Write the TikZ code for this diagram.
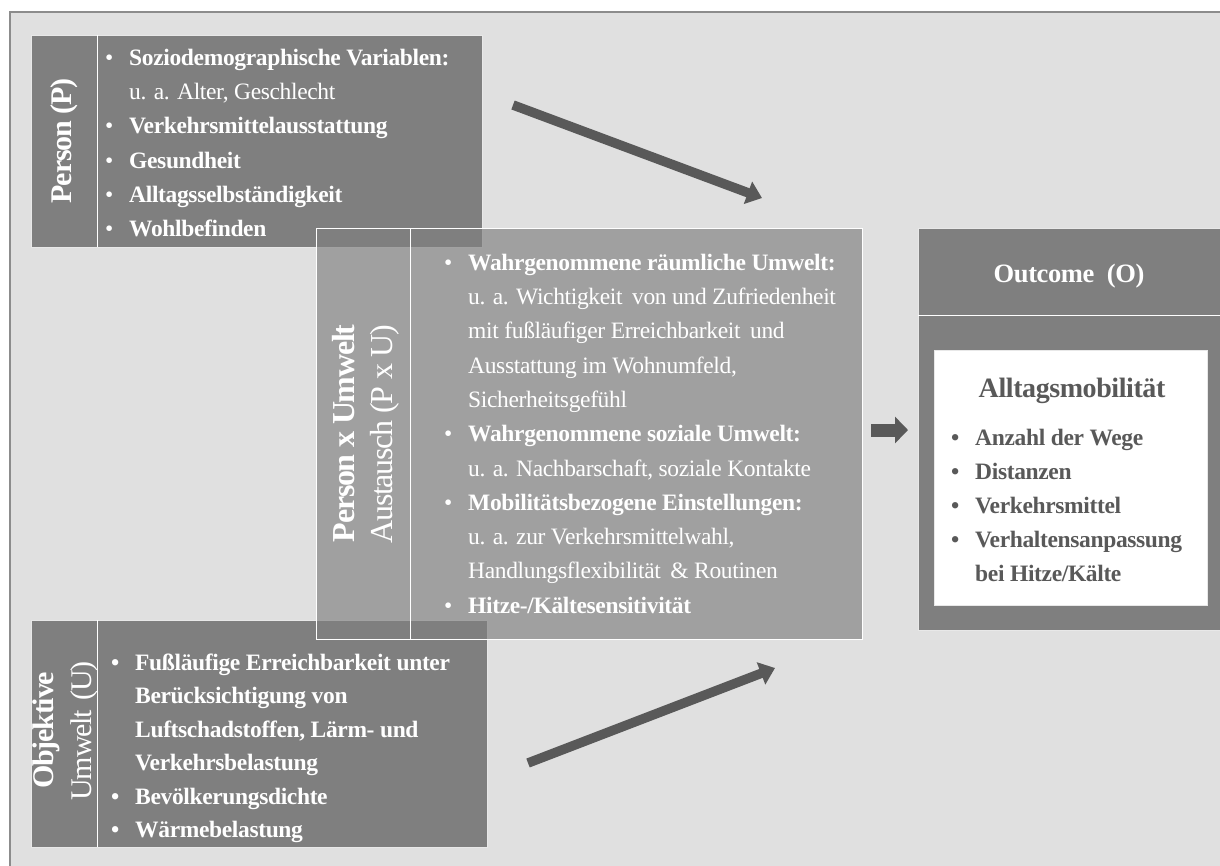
\documentclass[tikz,border=0pt]{standalone}
\usepackage{fontspec}
\setmainfont[LetterSpace=-1.5]{Liberation Serif}
\newfontfamily\titlefont[LetterSpace=-4]{Liberation Serif}
\usetikzlibrary{arrows.meta}

\definecolor{canvasgray}{HTML}{E0E0E0}
\definecolor{framegray}{HTML}{8C8C8C}
\definecolor{panelgray}{HTML}{7F7F7F}
\definecolor{arrowgray}{HTML}{595959}
\definecolor{edgegray}{HTML}{E8E8E8}
\definecolor{darktext}{HTML}{595959}

% bullet and hanging indent for list lines
\newcommand{\pbul}{\makebox[24pt][l]{•}}
\newcommand{\pind}{\hspace*{24pt}}
\newcommand{\firstline}{\rule{0pt}{24pt}}

\begin{document}
\begin{tikzpicture}[x=1pt,y=-1pt,
  panel/.style={draw=edgegray, line width=0.8pt, fill=panelgray,
    anchor=north west, inner sep=0pt, outer sep=0pt},
  glasspanel/.style={draw=white, line width=1pt, fill=panelgray,
    fill opacity=0.66, anchor=north west, inner sep=0pt, outer sep=0pt},
  divider/.style={draw=white, line width=1pt},
  listtext/.style={anchor=north west, inner sep=0pt, align=left, text=white},
  bodyfont/.style={font=\fontsize{23.5pt}{34.3pt}\selectfont},
  titletext/.style={rotate=90, inner sep=0pt, align=center, text=white},
  bigarrow/.style={draw=arrowgray, line width=9.5pt,
    -{Triangle[width=23pt,length=15pt]}},
]
\clip (0,0) rectangle (1220,865);
\fill[white] (0,0) rectangle (1220,865);

% slide area with frame on the top and left edges
\fill[canvasgray] (10,12) rectangle (1240,880);
\draw[framegray, line width=1.5pt] (10,880) -- (10,12) -- (1240,12);

% ---------- Person (P) ----------
\node[panel, minimum width=451pt, minimum height=212pt] (person) at (31,35) {};
\draw[divider] ([xshift=66pt]person.north west) -- ([xshift=66pt]person.south west);
\node[titletext, font=\titlefont\fontsize{30pt}{38pt}\selectfont\bfseries] (persontitle) at (64,141) {Person (P)};
\node[listtext, bodyfont] (personlist) at (105,41) {%
\pbul\textbf{Soziodemographische Variablen:}\firstline\\
\pind u. a. Alter, Geschlecht\\
\pbul\textbf{Verkehrsmittelausstattung}\\
\pbul\textbf{Gesundheit}\\
\pbul\textbf{Alltagsselbständigkeit}\\
\pbul\textbf{Wohlbefinden}};

% ---------- Objektive Umwelt (U) ----------
\node[panel, minimum width=456pt, minimum height=227pt] (umwelt) at (31,620) {};
\draw[divider] ([xshift=66pt]umwelt.north west) -- ([xshift=66pt]umwelt.south west);
\node[titletext, font=\titlefont\fontsize{30pt}{38pt}\selectfont] (umwelttitle) at (65,731)
  {\textbf{Objektive}\\Umwelt\hspace{3pt} (U)};
\node[listtext, font=\fontsize{23.5pt}{33.5pt}\selectfont\bfseries] (umweltlist) at (111,646) {%
\pbul Fußläufige Erreichbarkeit unter\firstline\\
\pind Berücksichtigung von\\
\pind Luftschadstoffen, Lärm- und\\
\pind Verkehrsbelastung\\
\pbul Bevölkerungsdichte\\
\pbul Wärmebelastung};

% ---------- Person x Umwelt Austausch (P x U) ----------
\node[glasspanel, minimum width=546pt, minimum height=411pt] (pxu) at (316,228) {};
\draw[divider] ([xshift=94pt]pxu.north west) -- ([xshift=94pt]pxu.south west);
\node[titletext, font=\titlefont\fontsize{32pt}{38pt}\selectfont] (pxutitle) at (366,434)
  {\textbf{Person x Umwelt}\\Austausch (P x U)};
\node[listtext, bodyfont] (pxulist) at (444,246) {%
\pbul\textbf{Wahrgenommene räumliche Umwelt:}\firstline\\
\pind u. a. Wichtigkeit\hspace{4pt} von und Zufriedenheit\\
\pind mit fußläufiger Erreichbarkeit\hspace{4pt} und\\
\pind Ausstattung im Wohnumfeld,\\
\pind Sicherheitsgefühl\\
\pbul\textbf{Wahrgenommene soziale Umwelt:}\\
\pind u. a. Nachbarschaft, soziale Kontakte\\
\pbul\textbf{Mobilitätsbezogene Einstellungen:}\\
\pind u. a. zur Verkehrsmittelwahl,\\
\pind Handlungsflexibilität\hspace{4pt} \& Routinen\\
\pbul\textbf{Hitze-/Kältesensitivität}};

% ---------- Outcome (O) ----------
\node[panel, minimum width=320pt, minimum height=402pt] (outcome) at (918,228) {};
\draw[divider] (918,315) -- (1240,315);
\node[anchor=base, inner sep=0pt, text=white, font=\fontsize{26.5pt}{30pt}\selectfont\bfseries]
  (outcometitle) at (1069,282) {Outcome\ \ (O)};
\node[fill=white, draw=edgegray, line width=0.6pt, anchor=north west, inner sep=0pt,
  minimum width=273pt, minimum height=255pt] (mobil) at (934,350) {};
\node[anchor=base, inner sep=0pt, text=darktext, font=\fontsize{28pt}{30pt}\selectfont\bfseries]
  (mobiltitle) at (1072,397) {Alltagsmobilität};
\node[listtext, text=darktext, font=\fontsize{23.5pt}{34pt}\selectfont\bfseries]
  (mobillist) at (951,421) {%
\pbul Anzahl der Wege\firstline\\
\pbul Distanzen\\
\pbul Verkehrsmittel\\
\pbul Verhaltensanpassung\\
\pind bei Hitze/Kälte};

% ---------- arrows ----------
\coordinate (pa) at (513,105);
\coordinate (pb) at (762,198);
\coordinate (ua) at (528,763);
\coordinate (ub) at (775,668);
\coordinate (ma) at (871,430);
\coordinate (mb) at (908,430);
\draw[bigarrow] (pa) -- (pb);
\draw[bigarrow] (ua) -- (ub);
\draw[draw=arrowgray, line width=13pt, -{Triangle[width=26pt,length=13pt]}] (ma) -- (mb);
\end{tikzpicture}
\end{document}
